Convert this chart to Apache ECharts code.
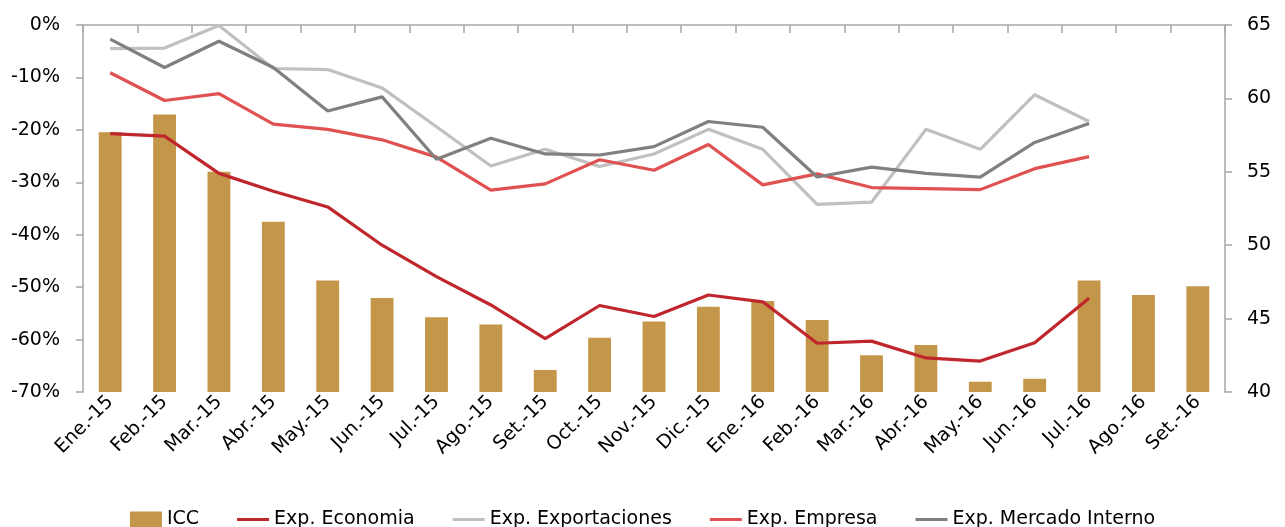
<!DOCTYPE html>
<html>
<head>
<meta charset="utf-8">
<script src="https://cdn.jsdelivr.net/npm/echarts@6/dist/echarts.min.js"></script>
<style>
  html, body { margin: 0; padding: 0; background: #fff; }
  #chart { width: 1285px; height: 527px; }
</style>
</head>
<body>
<div id="chart"></div>
<script>
  const months = ['Ene.-15', 'Feb.-15', 'Mar.-15', 'Abr.-15', 'May.-15', 'Jun.-15', 'Jul.-15', 'Ago.-15', 'Set.-15', 'Oct.-15', 'Nov.-15', 'Dic.-15',
    'Ene.-16', 'Feb.-16', 'Mar.-16', 'Abr.-16', 'May.-16', 'Jun.-16', 'Jul.-16', 'Ago.-16', 'Set.-16']

  // ICC, eje derecho
  const icc = [57.7, 58.9, 55.0, 51.6, 47.6, 46.4, 45.1, 44.6, 41.5, 43.7, 44.8, 45.8,
    46.2, 44.9, 42.5, 43.2, 40.7, 40.9, 47.6, 46.6, 47.2]

  // expectativas, eje izquierdo (%)
  const expEconomia = [-20.7, -21.2, -28.3, -31.7, -34.7, -42.0, -48.0, -53.4, -59.8, -53.5, -55.6, -51.5,
    -52.8, -60.7, -60.3, -63.5, -64.1, -60.6, -52.1, null, null]
  const expExportaciones = [-4.5, -4.4, -0.1, -8.3, -8.5, -12.0, -19.4, -26.9, -23.7, -27.0, -24.6, -19.9,
    -23.7, -34.2, -33.8, -19.9, -23.7, -13.3, -18.4, null, null]
  const expEmpresa = [-9.1, -14.4, -13.1, -18.9, -19.9, -21.9, -25.2, -31.5, -30.3, -25.7, -27.7, -22.8,
    -30.5, -28.4, -31.0, -31.2, -31.4, -27.4, -25.1, null, null]
  const expMercado = [-2.7, -8.1, -3.1, -8.1, -16.4, -13.7, -25.6, -21.6, -24.6, -24.8, -23.2, -18.4,
    -19.5, -29.0, -27.1, -28.3, -29.0, -22.4, -18.8, null, null]

  const font = '"DejaVu Sans", sans-serif'
  const axisGray = '#a6a6a6'
  const lineIcon = 'path://M0,0L33,0L33,3L0,3Z'

  function lineSeries(name, data, color) {
    return {
      type: 'line',
      name: name,
      data: data,
      yAxisIndex: 0,
      symbol: 'none',
      lineStyle: {color: color, width: 3.2},
      itemStyle: {color: color}
    }
  }

  let chart = echarts.init(document.getElementById('chart'))
  chart.setOption({
    animation: false,
    textStyle: {fontFamily: font},
    grid: {left: 83, right: 60, top: 25, bottom: 135},
    legend: {
      top: 505,
      left: 'center',
      itemGap: 38,
      itemWidth: 32,
      itemHeight: 16,
      textStyle: {fontSize: 19, color: '#000', fontFamily: font},
      data: [
        {name: 'ICC', icon: 'rect'},
        {name: 'Exp. Economia', icon: lineIcon},
        {name: 'Exp. Exportaciones', icon: lineIcon},
        {name: 'Exp. Empresa', icon: lineIcon},
        {name: 'Exp. Mercado Interno', icon: lineIcon}
      ]
    },
    xAxis: [
      {
        type: 'category',
        data: months,
        position: 'bottom',
        boundaryGap: true,
        axisLine: {show: false},
        axisTick: {show: false},
        axisLabel: {rotate: 45, fontSize: 19, color: '#000', margin: 7, interval: 0}
      },
      {
        type: 'category',
        data: months,
        position: 'top',
        boundaryGap: true,
        axisLine: {show: true, lineStyle: {color: axisGray, width: 1.5}},
        axisTick: {show: true, inside: true, length: 8, interval: 0, lineStyle: {color: axisGray, width: 1.5}},
        axisLabel: {show: false}
      }
    ],
    yAxis: [
      {
        type: 'value',
        min: -70, max: 0, interval: 10,
        position: 'left',
        axisLine: {show: true, lineStyle: {color: axisGray, width: 1.5}},
        axisTick: {show: true, length: 7, lineStyle: {color: axisGray, width: 1.5}},
        splitLine: {show: false},
        axisLabel: {formatter: v => v + '%', fontSize: 19, color: '#000', margin: 23}
      },
      {
        type: 'value',
        min: 40, max: 65, interval: 5,
        position: 'right',
        axisLine: {show: true, lineStyle: {color: axisGray, width: 1.5}},
        axisTick: {show: true, length: 7, lineStyle: {color: axisGray, width: 1.5}},
        splitLine: {show: false},
        axisLabel: {fontSize: 19, color: '#000', margin: 22}
      }
    ],
    series: [
      {
        type: 'bar',
        name: 'ICC',
        data: icc,
        yAxisIndex: 1,
        barWidth: '42%',
        itemStyle: {color: '#c4964a'}
      },
      lineSeries('Exp. Economia', expEconomia, '#c0272d'),
      lineSeries('Exp. Exportaciones', expExportaciones, '#c0c0c0'),
      lineSeries('Exp. Empresa', expEmpresa, '#e05252'),
      lineSeries('Exp. Mercado Interno', expMercado, '#808080')
    ]
  })
</script>
</body>
</html>
